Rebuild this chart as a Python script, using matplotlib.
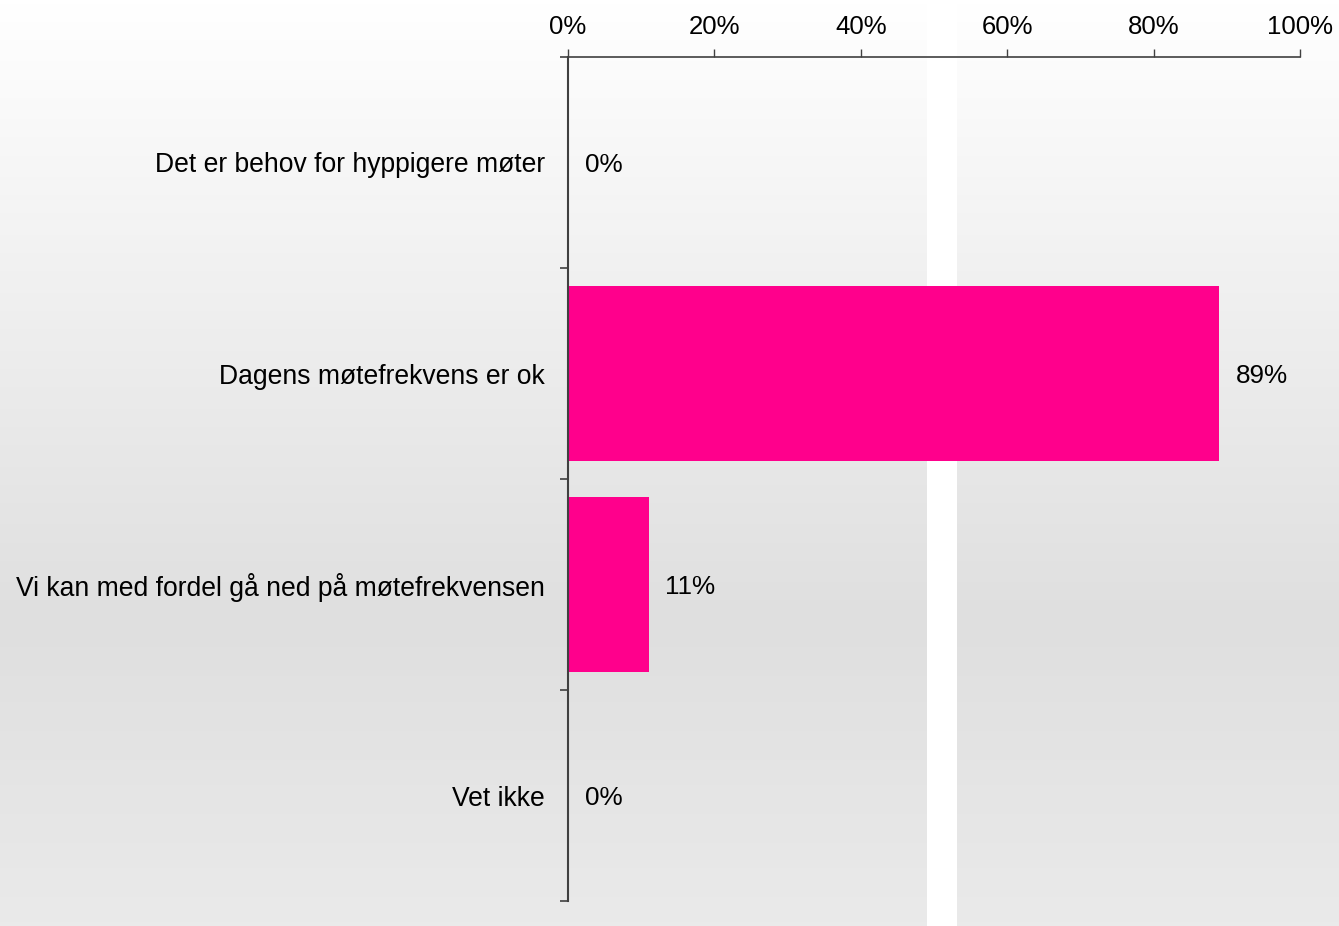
import matplotlib
matplotlib.use("Agg")
import matplotlib.pyplot as plt
import numpy as np
from matplotlib.colors import LinearSegmentedColormap
from matplotlib.ticker import FixedLocator, PercentFormatter

plt.rcParams["font.family"] = ["Liberation Sans", "DejaVu Sans"]

# ---------------------------------------------------------------------------
# Data
# ---------------------------------------------------------------------------

categories = [
    "Det er behov for hyppigere møter",
    "Dagens møtefrekvens er ok",
    "Vi kan med fordel gå ned på møtefrekvensen",
    "Vet ikke",
]
values = [0, 89, 11, 0]
x_ticks = [0, 20, 40, 60, 80, 100]

BAR_COLOR = "#ff008c"
AXIS_COLOR = "#404040"

fig = plt.figure(figsize=(13.39, 9.26), dpi=100)

# background: vertical grey gradient plus a white stripe
bg = fig.add_axes([0, 0, 1, 1], zorder=0)
cmap = LinearSegmentedColormap.from_list(
    "bg", [(0.0, "#ffffff"), (0.67, "#dfdfdf"), (1.0, "#eaeaea")])
grad = np.linspace(0, 1, 256).reshape(-1, 1)
bg.imshow(grad, cmap=cmap, aspect="auto", extent=[0, 1, 0, 1], origin="upper")
bg.axvspan(927 / 1339, 957 / 1339, color="white", lw=0)
bg.set_xlim(0, 1)
bg.set_ylim(0, 1)
bg.axis("off")

ax = fig.add_axes([568 / 1339, 1 - 901 / 926, 732 / 1339, 844 / 926], zorder=1)
ax.patch.set_alpha(0)

y = np.arange(len(categories))
ax.barh(y, values, height=0.83, color=BAR_COLOR, zorder=2)

for yi, v in zip(y, values):
    ax.text(v + 2.3, yi, f"{v}%", va="center_baseline", ha="left",
            fontsize=18.8, color="black")

ax.set_xlim(0, 100)
ax.set_ylim(len(categories) - 0.5, -0.5)

# x axis on top
ax.xaxis.set_ticks_position("top")
ax.xaxis.set_label_position("top")
ax.set_xticks(x_ticks)
ax.xaxis.set_major_formatter(PercentFormatter(decimals=0))
ax.tick_params(axis="x", direction="out", length=6, width=1, color=AXIS_COLOR,
               labelsize=18.5, pad=7)

# category labels at centres, tick marks at boundaries
ax.set_yticks(y)
ax.set_yticklabels(categories)
ax.tick_params(axis="y", which="major", length=0, labelsize=19.1, pad=16.5)
ax.yaxis.set_minor_locator(FixedLocator(np.arange(-0.5, len(categories), 1)))
ax.tick_params(axis="y", which="minor", direction="out", length=6, width=1.2,
               color=AXIS_COLOR)

for side in ["right", "bottom"]:
    ax.spines[side].set_visible(False)
ax.spines["left"].set_color(AXIS_COLOR)
ax.spines["left"].set_linewidth(1.5)
ax.spines["top"].set_color(AXIS_COLOR)
ax.spines["top"].set_linewidth(1.2)

fig.savefig("out.png", dpi=100)
